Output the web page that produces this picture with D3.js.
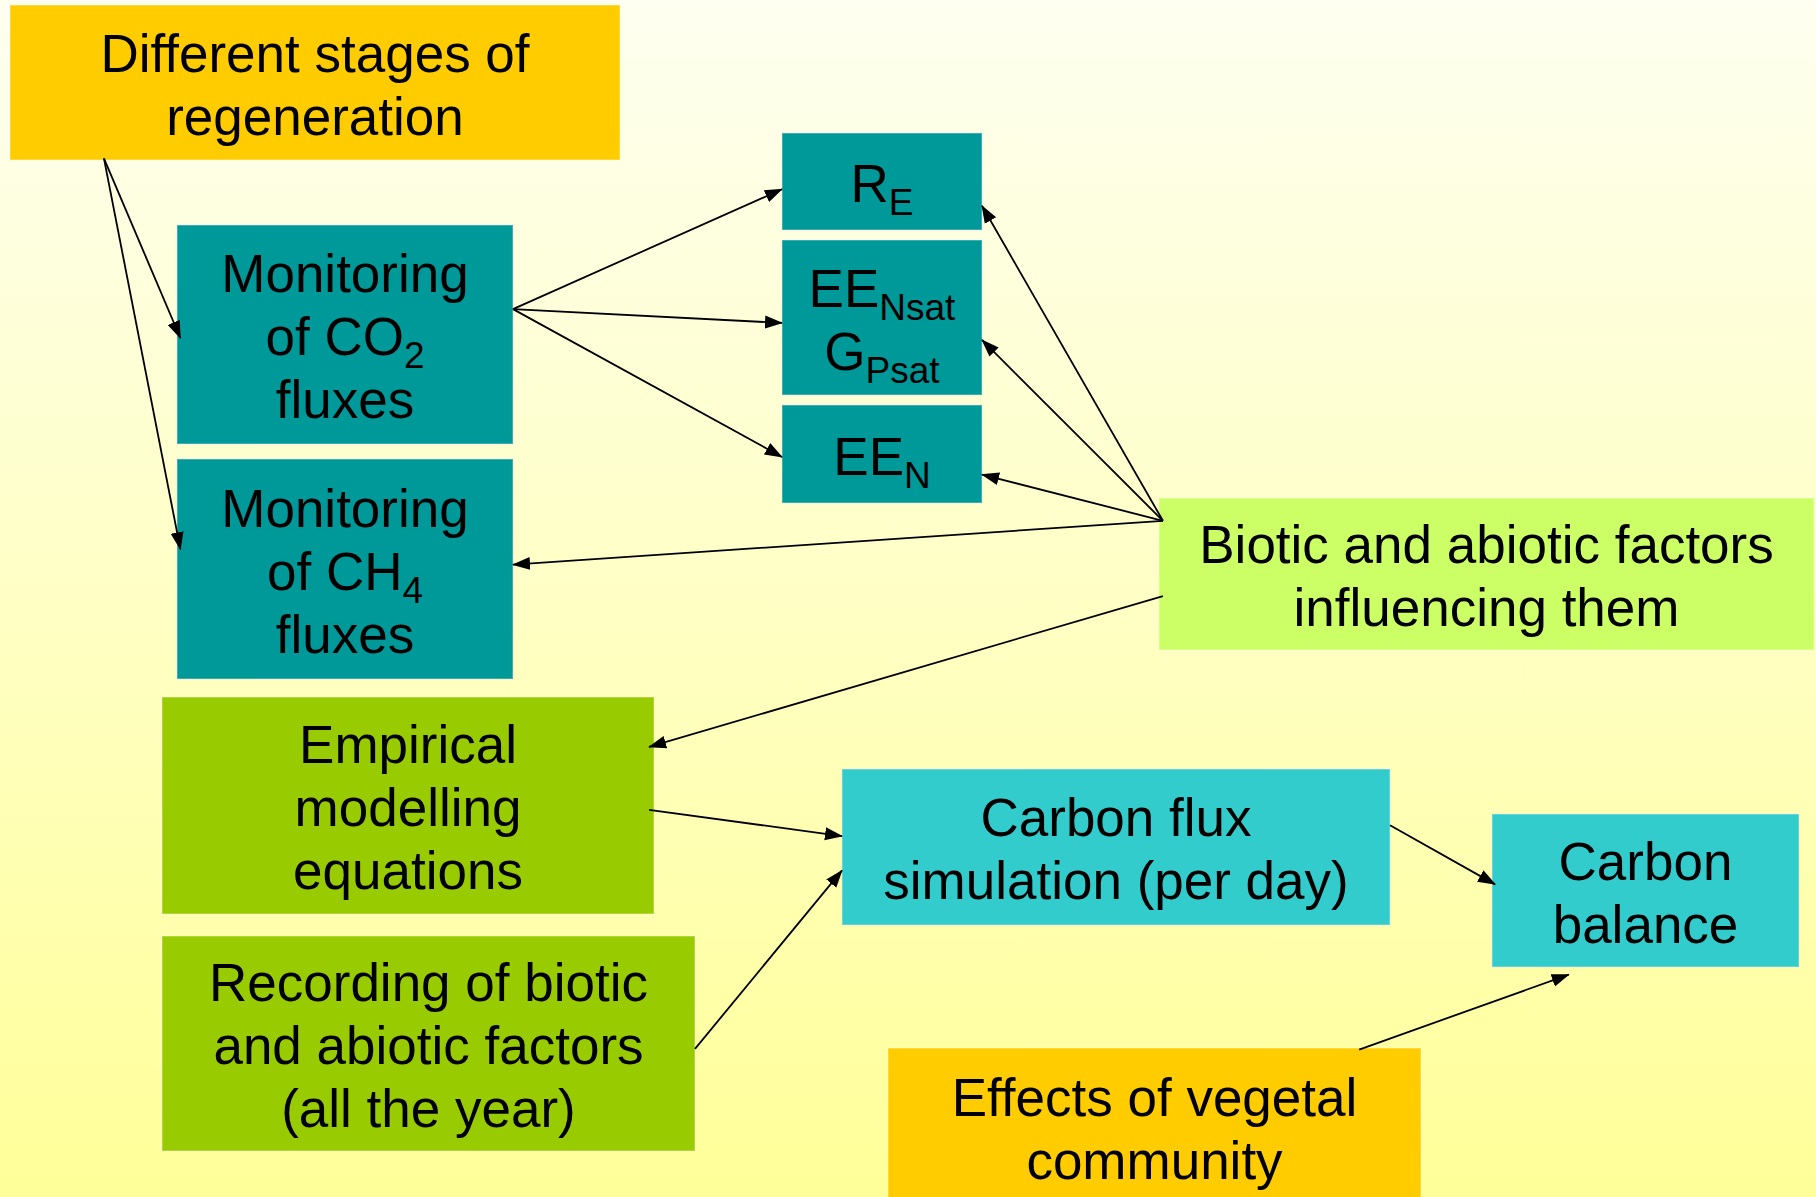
<!DOCTYPE html>
<meta charset="utf-8">
<style>

body {
  margin: 0;
}

text {
  font-family: "Liberation Sans", Arial, sans-serif;
  fill: #000;
}

</style>
<svg></svg>
<script src="https://d3js.org/d3.v7.min.js"></script>
<script>

var width = 1816,
    height = 1197;

// nodes of the scheme
var nodeIds = ["stages", "co2", "ch4", "re", "eensat", "een", "biotic", "empirical", "recording", "flux", "balance", "effects"];
var nodeLabels = [
  ["Different stages of", "regeneration"],
  ["Monitoring", "of CO_{2}", "fluxes"],
  ["Monitoring", "of CH_{4}", "fluxes"],
  ["R_{E}"],
  ["EE_{Nsat}", "G_{Psat}"],
  ["EE_{N}"],
  ["Biotic and abiotic factors", "influencing them"],
  ["Empirical", "modelling", "equations"],
  ["Recording of biotic", "and abiotic factors", "(all the year)"],
  ["Carbon flux", "simulation (per day)"],
  ["Carbon", "balance"],
  ["Effects of vegetal", "community"]
];
var nodeKinds = ["stage", "flux", "flux", "flux", "flux", "flux", "factor", "model", "model", "sim", "sim", "stage"];

// links: source, target
var linkFrom = ["stages", "stages", "co2", "co2", "co2", "biotic", "biotic", "biotic", "biotic", "biotic", "empirical", "recording", "flux", "effects"];
var linkTo   = ["co2", "ch4", "re", "eensat", "een", "re", "eensat", "een", "ch4", "empirical", "flux", "flux", "balance", "balance"];

// layout (slide units) kept apart from the data
var boxes = {
  stages:    [10, 5, 620, 160],
  co2:       [177, 225, 513, 444],
  ch4:       [177, 459, 513, 679],
  re:        [782, 133, 982, 230],
  eensat:    [782, 240, 982, 395],
  een:       [782, 405, 982, 503],
  biotic:    [1159, 498, 1814, 650],
  empirical: [162, 697, 654, 914],
  recording: [162, 936, 695, 1151],
  flux:      [842, 769, 1390, 925],
  balance:   [1492, 814, 1799, 967],
  effects:   [888, 1048, 1421, 1206]
};
// anchor of each link on its boxes, as fractions of the box
var anchors = [
  [0.154, 0.99, 0.01, 0.516],
  [0.154, 0.99, 0.01, 0.41],
  [1, 0.384, 0, 0.58],
  [1, 0.384, 0, 0.535],
  [1, 0.384, 0, 0.53],
  [0.006, 0.15, 1, 0.75],
  [0.006, 0.15, 1, 0.645],
  [0.006, 0.15, 1, 0.71],
  [0.006, 0.15, 1, 0.48],
  [0.006, 0.645, 0.99, 0.23],
  [0.99, 0.52, 0, 0.43],
  [1, 0.525, 0, 0.65],
  [1, 0.36, 0.01, 0.46],
  [0.884, 0.01, 0.25, 1.05]
];

var colors = {stage: "#ffcc00", flux: "#009999", factor: "#ccff66", model: "#99cc00", sim: "#33cccc"};

var x = d3.scaleLinear().domain([0, 1816]).range([0, width]),
    y = d3.scaleLinear().domain([0, 1197]).range([0, height]);

var svg = d3.select("svg")
    .attr("width", width)
    .attr("height", height);

var defs = svg.append("defs");

var grad = defs.append("linearGradient")
    .attr("id", "bg")
    .attr("x1", 0).attr("y1", 0).attr("x2", 0).attr("y2", 1);
grad.append("stop").attr("offset", "0%").attr("stop-color", "#fefff0");
grad.append("stop").attr("offset", "100%").attr("stop-color", "#ffff99");

defs.append("marker")
    .attr("id", "arrow")
    .attr("markerUnits", "userSpaceOnUse")
    .attr("viewBox", "0 -8 18 16")
    .attr("refX", 17)
    .attr("refY", 0)
    .attr("markerWidth", 18)
    .attr("markerHeight", 16)
    .attr("orient", "auto")
  .append("path")
    .attr("d", "M0,-6.5L18,0L0,6.5Z")
    .attr("fill", "#000");

svg.append("rect")
    .attr("width", width)
    .attr("height", height)
    .attr("fill", "url(#bg)");

var nodes = nodeIds.map(function(id, i) {
  return {id: id, lines: nodeLabels[i], kind: nodeKinds[i], box: boxes[id]};
});

var node = svg.append("g").selectAll("g")
  .data(nodes)
  .enter().append("g");

node.append("rect")
    .attr("x", function(d) { return x(d.box[0]); })
    .attr("y", function(d) { return y(d.box[1]); })
    .attr("width", function(d) { return x(d.box[2]) - x(d.box[0]); })
    .attr("height", function(d) { return y(d.box[3]) - y(d.box[1]); })
    .attr("fill", function(d) { return colors[d.kind]; })
    .attr("stroke", "rgba(255,255,255,0.3)")
    .attr("stroke-width", 1.5);

var fs = 53, subFs = 37, lh = 63, subShift = 13;

node.each(function(d) {
  var g = d3.select(this),
      cx = (x(d.box[0]) + x(d.box[2])) / 2,
      cy = (y(d.box[1]) + y(d.box[3])) / 2,
      n = d.lines.length;
  d.lines.forEach(function(line, i) {
    var t = g.append("text")
        .attr("x", cx)
        .attr("y", cy + (i - (n - 1) / 2) * lh + 0.35 * fs + 2)
        .attr("text-anchor", "middle")
        .style("font-size", fs + "px");
    var parts = line.split(/_\{([^}]*)\}/);
    parts.forEach(function(p, j) {
      if (!p) return;
      if (j % 2) {
        t.append("tspan").attr("dy", subShift).style("font-size", subFs + "px").text(p);
      } else {
        t.append("tspan").attr("dy", j ? -subShift : 0).text(p);
      }
    });
  });
});

var links = linkFrom.map(function(s, i) {
  var a = boxes[s], b = boxes[linkTo[i]], k = anchors[i];
  return {
    x1: a[0] + k[0] * (a[2] - a[0]), y1: a[1] + k[1] * (a[3] - a[1]),
    x2: b[0] + k[2] * (b[2] - b[0]), y2: b[1] + k[3] * (b[3] - b[1])
  };
});

svg.append("g").selectAll("line")
  .data(links)
  .enter().append("line")
    .attr("x1", function(d) { return x(d.x1); })
    .attr("y1", function(d) { return y(d.y1); })
    .attr("x2", function(d) { return x(d.x2); })
    .attr("y2", function(d) { return y(d.y2); })
    .attr("stroke", "#000")
    .attr("stroke-width", 1.8)
    .attr("marker-end", "url(#arrow)");

</script>
